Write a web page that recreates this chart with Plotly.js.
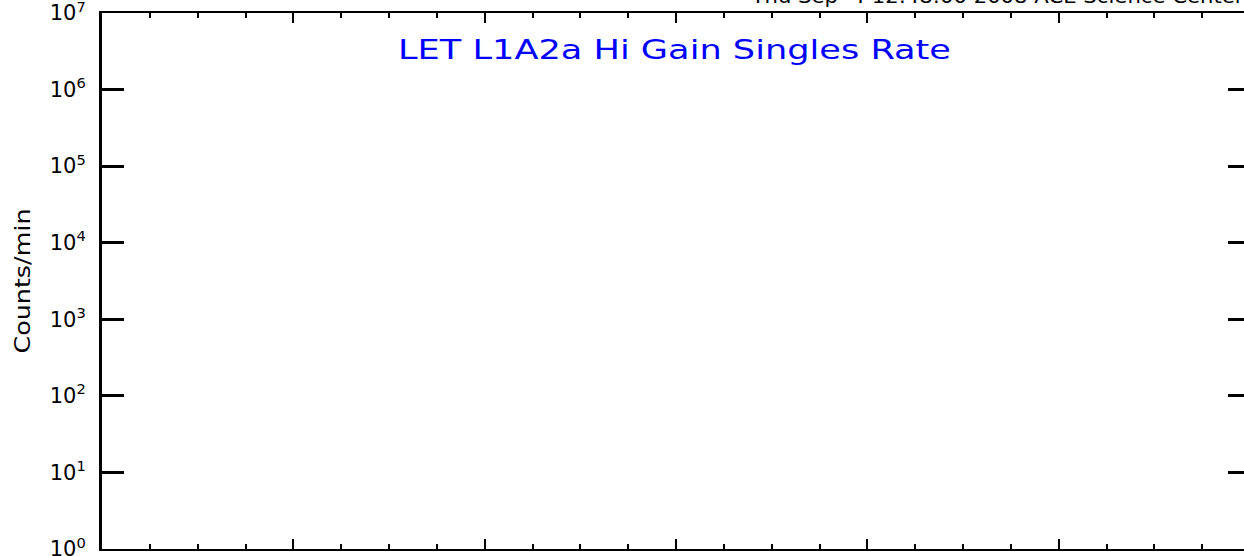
<!DOCTYPE html>
<html>
<head>
<meta charset="utf-8">
<script src="https://cdn.plot.ly/plotly-3.0.1.min.js"></script>
<style>
html,body{margin:0;padding:0;background:#fff;overflow:hidden;}
#wrap{width:1244px;height:556px;overflow:hidden;}
#chart{width:1250px;height:556px;}
</style>
</head>
<body>
<div id="wrap"><div id="chart"></div></div>
<script>
// Data (the reference plot contains no data points)
const timeValues = [];
const rateValues = [];
const yTickVals = [1, 10, 100, 1000, 10000, 100000, 1000000, 10000000];
const yTickText = ["10<sup>0</sup>","10<sup>1</sup>","10<sup>2</sup>","10<sup>3</sup>","10<sup>4</sup>","10<sup>5</sup>","10<sup>6</sup>","10<sup>7</sup>"];
const xRange = [0, 6];
const yRangeLog = [0, 7];
const chartTitle = "LET L1A2a Hi Gain Singles Rate";
const yTitle = "Counts/min";
const stampText = "Thu Sep\u00A0\u00A04 12:48:00 2008 ACE Science Center";

const traces = [{
  x: timeValues, y: rateValues, type: 'scatter', mode: 'lines',
  line: {color: '#000', width: 1}, showlegend: false, hoverinfo: 'skip'
}];

const layout = {
  width: 1250, height: 556,
  margin: {l: 102, r: 0, t: 13, b: 7, pad: 0},
  paper_bgcolor: '#fff', plot_bgcolor: '#fff',
  font: {family: 'DejaVu Sans, sans-serif', color: '#000', size: 20},
  showlegend: false,
  title: {
    text: chartTitle,
    font: {family: 'DejaVu Sans, sans-serif', size: 27, color: '#0000ff'},
    xref: 'container', x: 674.5/1250, xanchor: 'center',
    yref: 'container', y: 1 - 50/556, yanchor: 'middle'
  },
  xaxis: {
    type: 'linear', range: xRange, autorange: false,
    showgrid: false, zeroline: false,
    showline: true, linecolor: '#000', linewidth: 2, mirror: 'ticks',
    ticks: 'inside', ticklen: 10, tickwidth: 2, tickcolor: '#000',
    tick0: 0, dtick: 1,
    minor: {ticks: 'inside', ticklen: 5, tickwidth: 2, tickcolor: '#000', dtick: 0.25, showgrid: false},
    showticklabels: false
  },
  yaxis: {
    type: 'log', range: yRangeLog, autorange: false,
    showgrid: false, zeroline: false,
    showline: true, linecolor: '#000', linewidth: 3, mirror: 'ticks',
    ticks: 'inside', ticklen: 22, tickwidth: 3, tickcolor: '#000',
    tickmode: 'array', tickvals: yTickVals, ticktext: yTickText,
    tickfont: {family: 'DejaVu Sans, sans-serif', size: 21, color: '#000'},
    ticklabelstandoff: 9,
    ticklabeloverflow: 'allow',
    title: {text: yTitle, font: {family: 'DejaVu Sans, sans-serif', size: 22, color: '#000'}, standoff: 14},
    automargin: false
  },
  annotations: [{
    text: stampText, showarrow: false,
    xref: 'paper', x: (997 - 102) / 1148, xanchor: 'center',
    yref: 'paper', y: 1 + (13 - 9) / 536, yanchor: 'bottom',
    font: {family: 'DejaVu Sans, sans-serif', size: 19, color: '#000'}
  }]
};

function stretch(el, len) {
  if (!el) return;
  el.setAttribute('textLength', len);
  el.setAttribute('lengthAdjust', 'spacingAndGlyphs');
}

Plotly.newPlot('chart', traces, layout, {displayModeBar: false, staticPlot: true}).then(function (gd) {
  stretch(gd.querySelector('.gtitle'), 553);
  stretch(gd.querySelector('.ytitle'), 145);
  stretch(gd.querySelector('.annotation-text'), 492);
});
</script>
</body>
</html>
